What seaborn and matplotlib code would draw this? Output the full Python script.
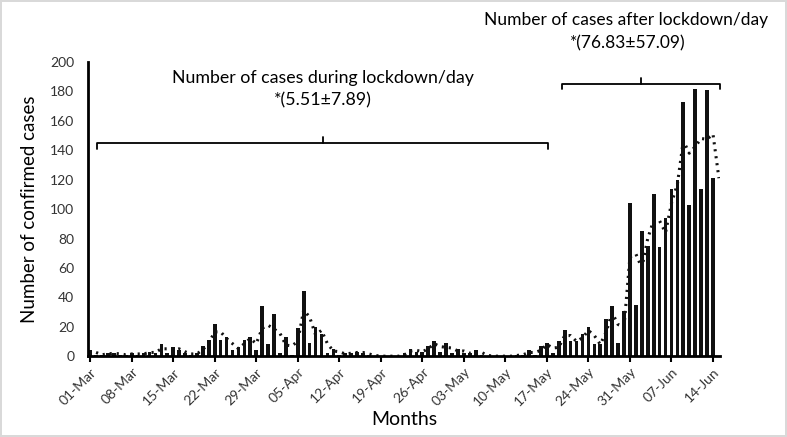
import numpy as np
import pandas as pd
import matplotlib
matplotlib.use("Agg")
import matplotlib.pyplot as plt
import seaborn as sns

# ---- data ----
start_date = "2020-03-01"
cases = [
    4, 1, 1, 2, 2, 1, 1, 2, 1, 2,          # 01-Mar .. 10-Mar
    3, 2, 8, 2, 6, 4, 2, 1, 2, 7,          # 11-Mar .. 20-Mar
    11, 22, 11, 13, 4, 6, 11, 13, 4, 34,   # 21-Mar .. 30-Mar
    8, 29, 2, 13, 1, 19, 44, 9, 20, 15,    # 31-Mar .. 09-Apr
    2, 5, 1, 2, 2, 3, 2, 1, 0, 0,          # 10-Apr .. 19-Apr
    0, 0, 0, 2, 5, 3, 3, 7, 10, 3,         # 20-Apr .. 29-Apr
    9, 2, 5, 2, 2, 4, 1, 0, 0, 0,          # 30-Apr .. 09-May
    0, 0, 1, 1, 4, 1, 7, 9, 2, 10,         # 10-May .. 19-May
    18, 10, 10, 15, 20, 8, 8, 25, 34, 9,   # 20-May .. 29-May
    31, 104, 35, 85, 75, 110, 74, 94, 114, 120,  # 30-May .. 08-Jun
    173, 103, 182, 114, 181, 121,          # 09-Jun .. 14-Jun
]
tick_labels = ["01-Mar", "08-Mar", "15-Mar", "22-Mar", "29-Mar", "05-Apr",
               "12-Apr", "19-Apr", "26-Apr", "03-May", "10-May", "17-May",
               "24-May", "31-May", "07-Jun", "14-Jun"]
during_title = "Number of cases during lockdown/day"
during_stat = "*(5.51±7.89)"
after_title = "Number of cases after lockdown/day"
after_stat = "*(76.83±57.09)"

dates = pd.date_range(start_date, periods=len(cases), freq="D")
df = pd.DataFrame({"day": np.arange(len(cases)), "cases": cases, "date": dates})

# 2-period moving average (Excel-style trendline, last point uses trailing blank)
ext = pd.Series(cases + [np.nan])
ma = ext.rolling(2, min_periods=1).mean()
ma_df = pd.DataFrame({"day": np.arange(len(ext)), "ma": ma.values}).iloc[1:]

# ---- style ----
sns.set_theme(style="white")
plt.rcParams["font.family"] = ["Lato", "DejaVu Sans"]

fig = plt.figure(figsize=(7.87, 4.37), dpi=100)
fig.patch.set_facecolor("white")
fig.patch.set_edgecolor("#d9d9d9")
fig.patch.set_linewidth(1.5)
ax = fig.add_axes([0.112, 0.185, 0.803, 0.673])

sns.barplot(data=df, x="day", y="cases", color="#111111", width=0.62,
            saturation=1, ax=ax, linewidth=0)
sns.lineplot(data=ma_df, x="day", y="ma", ax=ax, color="#111111",
             linestyle=(0, (0.7, 1.6)), linewidth=2.2)

ax.set_xlim(-0.34, 106.2)
ax.set_ylim(0, 200)
ax.set_yticks(np.arange(0, 201, 20))
ax.set_xticks(np.arange(0, len(cases), 7))
ax.set_xticklabels(tick_labels, rotation=45, ha="right", rotation_mode="anchor",
                   fontsize=10, color="#333333")
ax.set_yticklabels([str(v) for v in range(0, 201, 20)])
ax.tick_params(axis="y", labelsize=10, labelcolor="#333333", length=0, pad=10)
ax.tick_params(axis="x", length=4, width=1.5, color="black", direction="out",
               bottom=True, pad=3)
ax.set_xlabel("Months", fontsize=14, color="black", labelpad=2)
ax.set_ylabel("Number of confirmed cases", fontsize=13.5, color="black", labelpad=9)

for side in ["top", "right"]:
    ax.spines[side].set_visible(False)
for side in ["left", "bottom"]:
    ax.spines[side].set_color("black")
    ax.spines[side].set_linewidth(2)

# brackets
def bracket(x0, x1, xc, y, drop, bump):
    ax.plot([x0, x0, x1, x1], [y - drop, y, y, y - drop], color="black",
            lw=1.3, clip_on=False, solid_joinstyle="round")
    ax.plot([xc, xc], [y, y + bump], color="black", lw=1.3, clip_on=False)

bracket(1.2, 77.2, 39.3, 145, 4, 4)
bracket(79.6, 106.2, 92.9, 185, 3.5, 4)

ax.text(39.3, 189, during_title, ha="center", va="center", fontsize=12.8,
        color="black", clip_on=False)
ax.text(39.3, 174, during_stat, ha="center", va="center", fontsize=12.8,
        color="black", clip_on=False)
ax.text(90.3, 228.5, after_title, ha="center", va="center", fontsize=12.5,
        color="black", clip_on=False)
ax.text(90.6, 213, after_stat, ha="center", va="center", fontsize=12.5,
        color="black", clip_on=False)

fig.savefig("out.png", dpi=100)
